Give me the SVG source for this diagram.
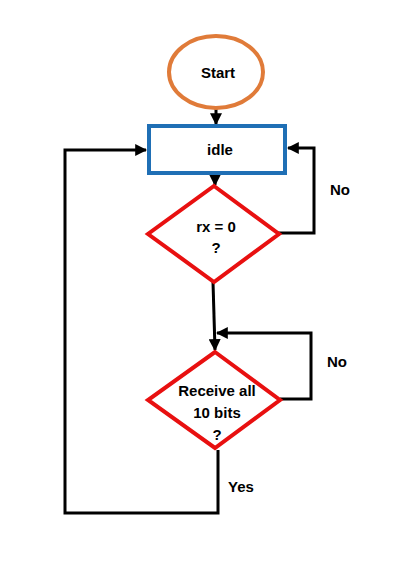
<svg xmlns="http://www.w3.org/2000/svg" width="412" height="571" viewBox="0 0 412 571">
<style>
text{font-family:"Liberation Sans",Arial,sans-serif;font-weight:bold;font-size:15px;fill:#000;text-anchor:middle}
.c{fill:none;stroke:#000;stroke-width:3}
.d{fill:#fff;stroke:#e81010;stroke-width:4}
</style>
<defs>
<marker id="ah" viewBox="0 0 10 10" refX="9" refY="5" markerWidth="4" markerHeight="4" orient="auto" markerUnits="strokeWidth">
<path d="M0,0 L10,5 L0,10 z" fill="#000"/>
</marker>
</defs>
<rect width="412" height="571" fill="#fff"/>
<g id="connectors">
<line class="c" x1="216" y1="108" x2="216" y2="124" marker-end="url(#ah)"/>
<line class="c" x1="215" y1="173" x2="215" y2="185" marker-end="url(#ah)"/>
<polyline class="c" points="278,233 314,233 314,148 288,148" marker-end="url(#ah)"/>
<polyline class="c" points="213,282 215,350" marker-end="url(#ah)"/>
<polyline class="c" points="280,399 311,399 311,333 217,333" marker-end="url(#ah)"/>
<polyline class="c" points="218,450 218,513 65,513 65,150 146,150" marker-end="url(#ah)"/>
</g>
<g id="start">
<ellipse cx="216" cy="72" rx="47" ry="36" fill="#fff" stroke="#e07b39" stroke-width="4"/>
<text x="218" y="78">Start</text>
</g>
<g id="idle">
<rect x="149" y="126" width="136" height="47" fill="#fff" stroke="#1f6fb5" stroke-width="4"/>
<text x="220" y="155">idle</text>
</g>
<g id="rx0">
<polygon class="d" points="214,186 279,234 214,282 148,234"/>
<text x="216" y="232">rx = 0</text>
<text x="216" y="253">?</text>
</g>
<g id="receive">
<polygon class="d" points="215,352 280,400 215,448 148,400"/>
<text x="217" y="396">Receive all</text>
<text x="217" y="418">10 bits</text>
<text x="217" y="440">?</text>
</g>
<g id="labels">
<text x="340" y="195">No</text>
<text x="337" y="367">No</text>
<text x="241" y="492">Yes</text>
</g>
</svg>
